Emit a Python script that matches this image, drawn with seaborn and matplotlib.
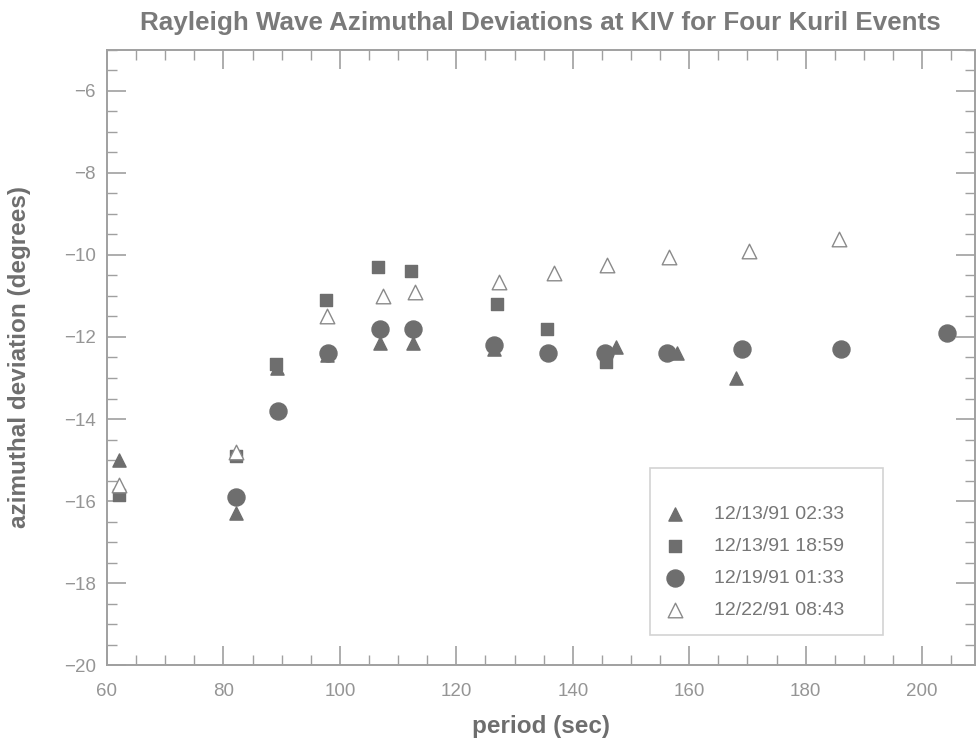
import matplotlib
matplotlib.use("Agg")
import matplotlib.pyplot as plt
import seaborn as sns
import pandas as pd
from matplotlib.ticker import MultipleLocator

# ---- data ----
tri_x = [62.0, 82.1, 89.2, 97.8, 106.9, 112.6, 126.5, 147.5, 157.9, 168.1]
tri_y = [-15.0, -16.3, -12.75, -12.45, -12.15, -12.15, -12.3, -12.25, -12.4, -13.0]

sq_x = [62.1, 82.1, 89.0, 97.7, 106.6, 112.2, 127.0, 135.5, 145.7]
sq_y = [-15.85, -14.9, -12.65, -11.1, -10.3, -10.4, -11.2, -11.8, -12.6]

circ_x = [82.1, 89.3, 98.0, 106.9, 112.6, 126.4, 135.8, 145.5, 156.2, 169.0, 186.1, 204.3]
circ_y = [-15.9, -13.8, -12.4, -11.8, -11.8, -12.2, -12.4, -12.4, -12.4, -12.3, -12.3, -11.9]

otri_x = [62.1, 82.1, 97.8, 107.4, 112.9, 127.4, 136.7, 145.8, 156.6, 170.3, 185.8]
otri_y = [-15.6, -14.8, -11.5, -11.0, -10.9, -10.65, -10.45, -10.25, -10.05, -9.9, -9.6]

labels = ["12/13/91 02:33", "12/13/91 18:59", "12/19/91 01:33", "12/22/91 08:43"]
title = "Rayleigh Wave Azimuthal Deviations at KIV for Four Kuril Events"
xlabel = "period (sec)"
ylabel = "azimuthal deviation (degrees)"

sns.set_theme(style="white")
plt.rcParams['font.family'] = ['Liberation Sans', 'DejaVu Sans']

grey = "#6e6e6e"
light = "#8a8a8a"
axis_col = "#a0a0a0"

fig = plt.figure(figsize=(9.77, 7.44), dpi=100)
ax = fig.add_axes([0.1095, 0.106, 0.888, 0.827])

series = [
    (tri_x, tri_y, "^", 90, grey, grey),
    (sq_x, sq_y, "s", 80, grey, grey),
    (circ_x, circ_y, "o", 150, grey, grey),
    (otri_x, otri_y, "^", 110, "white", light),
]
for (xs, ys, m, s, fc, ec), lab in zip(series, labels):
    df = pd.DataFrame({"x": xs, "y": ys})
    sns.scatterplot(data=df, x="x", y="y", marker=m, s=s, color=fc,
                    edgecolor=ec, linewidth=1.0, label=lab, ax=ax, zorder=3)

ax.set_xlim(60, 209)
ax.set_ylim(-20, -5)
ax.xaxis.set_major_locator(MultipleLocator(20))
ax.xaxis.set_minor_locator(MultipleLocator(5))
ax.yaxis.set_major_locator(MultipleLocator(2))
ax.yaxis.set_minor_locator(MultipleLocator(0.5))
ax.tick_params(which="both", direction="in", top=True, right=True,
               bottom=True, left=True, colors=axis_col, labelcolor="#959595",
               labelsize=13.5)
ax.tick_params(which="major", length=14, width=1.2)
ax.tick_params(axis="x", which="major", pad=13)
ax.tick_params(axis="y", which="major", pad=8)
ax.tick_params(which="minor", length=7, width=1.0)
for sp in ax.spines.values():
    sp.set_color(axis_col)
    sp.set_linewidth(1.4)

ax.set_xlabel(xlabel, fontsize=17.5, fontweight="bold", color=grey, labelpad=11)
ax.set_ylabel(ylabel, fontsize=17.5, fontweight="bold", color=grey, labelpad=24)
ax.set_title(title, fontsize=18.7, fontweight="bold", color="#7a7a7a", pad=14)

leg = ax.legend(loc="lower left", bbox_to_anchor=(0.626, 0.049, 0.268, 0.271),
                mode="expand", frameon=True, fontsize=14, title=" ",
                title_fontsize=5, labelspacing=0.75, handlelength=1.0,
                handletextpad=1.5, borderpad=0.8, borderaxespad=0,
                fancybox=False)
leg.get_frame().set_edgecolor("#c8c8c8")
leg.get_frame().set_linewidth(1.2)
for t in leg.get_texts():
    t.set_color("#777777")

fig.savefig("out.png", dpi=100)
